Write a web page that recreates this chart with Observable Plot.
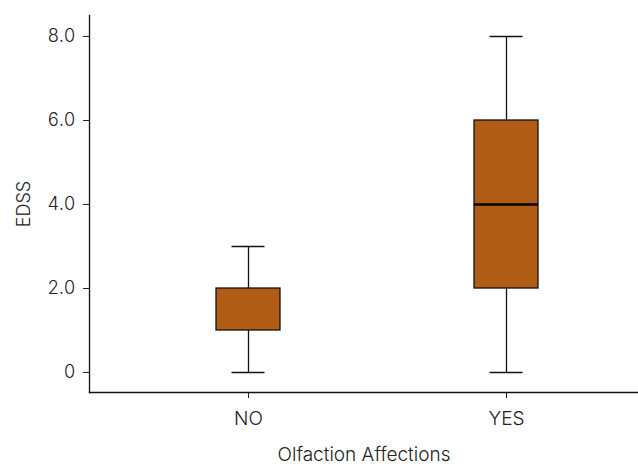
<!DOCTYPE html>
<html>
<head>
<meta charset="utf-8">
<script src="https://cdn.jsdelivr.net/npm/d3@7"></script>
<script src="https://cdn.jsdelivr.net/npm/@observablehq/plot@0.6"></script>
<style>
  html, body { margin: 0; padding: 0; background: #fff; }
  #chart svg { display: block; }
  #chart svg text { font-weight: 300; }
</style>
</head>
<body>
<div id="chart"></div>
<script>
const categories = ["NO", "YES"];
const mins = [0, 0];
const q1s = [1, 2];
const medians = [1, 4];
const q3s = [2, 6];
const maxs = [3, 8];
const yTicks = [0, 2, 4, 6, 8];

const rows = categories.map((c, i) => ({
  cat: c, min: mins[i], q1: q1s[i], med: medians[i], q3: q3s[i], max: maxs[i]
}));
const medRows = rows.filter(d => d.med > d.q1 && d.med < d.q3);

const fill = "#b15c15";
const chart = Plot.plot({
  width: 638,
  height: 466,
  marginLeft: 89,
  marginRight: 0,
  marginTop: 15,
  marginBottom: 74,
  style: { fontFamily: "Inter, Roboto, sans-serif", fontSize: "18px", color: "#222", background: "#fff" },
  x: { type: "band", domain: categories, range: [216, 538], paddingInner: 0.752, paddingOuter: 0 },
  y: { domain: [-0.476, 8.5] },
  marks: [
    Plot.ruleX(rows, { x: "cat", y1: "min", y2: "q1", stroke: "#111", strokeWidth: 1.3 }),
    Plot.ruleX(rows, { x: "cat", y1: "q3", y2: "max", stroke: "#111", strokeWidth: 1.3 }),
    Plot.tickY(rows, { x: "cat", y: "min", stroke: "#111", strokeWidth: 1.3, insetLeft: 15.5, insetRight: 15.5 }),
    Plot.tickY(rows, { x: "cat", y: "max", stroke: "#111", strokeWidth: 1.3, insetLeft: 15.5, insetRight: 15.5 }),
    Plot.barY(rows, { x: "cat", y1: "q1", y2: "q3", fill: fill, stroke: "#111", strokeWidth: 1.3 }),
    Plot.tickY(medRows, { x: "cat", y: "med", stroke: "#000", strokeWidth: 2.5 }),
    Plot.axisY({
      ticks: yTicks, tickSize: 6, tickPadding: 8, fontSize: 18,
      tickFormat: d => d === 0 ? "0" : d3.format(".1f")(d),
      label: "EDSS", labelAnchor: "center", labelOffset: 72, labelArrow: "none"
    }),
    Plot.axisX({
      tickSize: 6, tickPadding: 13, fontSize: 19,
      label: "Olfaction Affections", labelAnchor: "center", labelOffset: 68, labelArrow: "none"
    }),
    Plot.frame({ anchor: "left", stroke: "#111", strokeWidth: 1.3 }),
    Plot.frame({ anchor: "bottom", stroke: "#111", strokeWidth: 1.3 })
  ]
});
document.getElementById("chart").appendChild(chart);
</script>
</body>
</html>
